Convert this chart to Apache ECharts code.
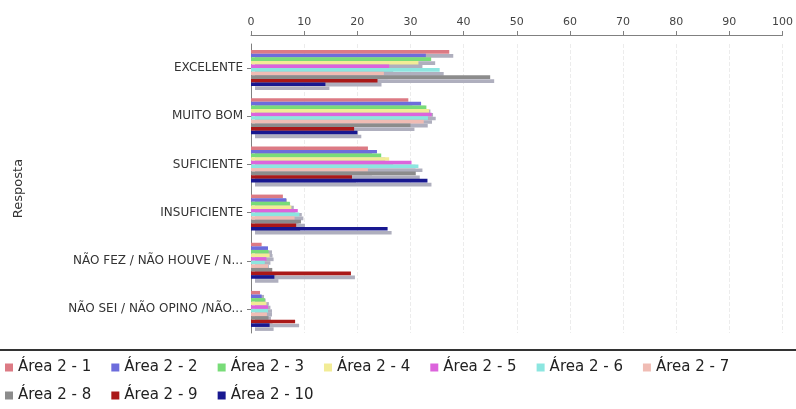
<!DOCTYPE html>
<html>
<head>
<meta charset="utf-8">
<script src="https://cdn.jsdelivr.net/npm/echarts@6/dist/echarts.min.js"></script>
<style>
html,body{margin:0;padding:0;background:#fff;}
#chart{width:796px;height:409px;}
</style>
</head>
<body>
<div id="chart"></div>
<script>
const categories = ['EXCELENTE', 'MUITO BOM', 'SUFICIENTE', 'INSUFICIENTE', 'NÃO FEZ / NÃO HOUVE / N...', 'NÃO SEI / NÃO OPINO /NÃO...'];
const seriesNames = ['Área 2 - 1', 'Área 2 - 2', 'Área 2 - 3', 'Área 2 - 4', 'Área 2 - 5', 'Área 2 - 6', 'Área 2 - 7', 'Área 2 - 8', 'Área 2 - 9', 'Área 2 - 10'];
const area1 = [37.3, 29.6, 22.0, 6.0, 2.0, 1.7];
const area2 = [32.9, 32.0, 23.7, 6.6, 3.2, 2.0];
const area3 = [33.9, 33.0, 24.5, 7.3, 3.3, 2.6];
const area4 = [31.5, 33.5, 26.0, 7.6, 3.5, 2.9];
const area5 = [26.0, 34.0, 30.2, 8.8, 2.9, 3.2];
const area6 = [35.5, 33.3, 31.5, 9.1, 2.6, 3.2];
const area7 = [25.0, 32.5, 22.0, 8.2, 3.2, 3.0];
const area8 = [45.0, 30.0, 31.0, 9.4, 4.0, 3.3];
const area9 = [23.8, 19.4, 19.0, 8.5, 18.8, 8.3];
const area10 = [14.0, 20.0, 33.2, 25.7, 4.4, 3.5];
const seriesValues = [area1, area2, area3, area4, area5, area6, area7, area8, area9, area10];
const colors = ['#dc7a84', '#6c6cdc', '#78dc78', '#f2ec96', '#dc64dc', '#8ce6e0', '#f0bcb4', '#8c8c8c', '#aa1818', '#181890'];

const chart = echarts.init(document.getElementById('chart'), null, {renderer: 'canvas'});
const series = seriesNames.map((name, i) => ({
  name: name,
  type: 'bar',
  data: seriesValues[i],
  barWidth: 3.6,
  barGap: '0%',
  itemStyle: {
    color: colors[i],
    shadowColor: 'rgba(175,175,190,1)',
    shadowOffsetX: 4,
    shadowOffsetY: 4,
    shadowBlur: 0
  }
}));

const legendBase = {
  orient: 'horizontal',
  left: 0,
  padding: 5,
  itemGap: 20,
  itemWidth: 8,
  itemHeight: 8,
  icon: 'rect',
  textStyle: {color: '#222', fontFamily: 'DejaVu Sans', fontSize: 15}
};

chart.setOption({
  animation: false,
  backgroundColor: '#ffffff',
  color: colors,
  grid: {left: 251, right: 8, top: 44, height: 289, containLabel: false},
  xAxis: {
    type: 'value',
    position: 'top',
    offset: 9,
    min: 0,
    max: 100,
    interval: 10,
    axisLine: {show: true, lineStyle: {color: '#808080'}},
    axisTick: {show: true, length: 4, lineStyle: {color: '#808080'}},
    axisLabel: {color: '#444', fontFamily: 'DejaVu Sans', fontSize: 11, margin: 7},
    splitLine: {show: true, lineStyle: {color: '#ececec', type: 'dashed'}}
  },
  yAxis: {
    type: 'category',
    inverse: true,
    data: categories,
    name: 'Resposta',
    nameLocation: 'middle',
    nameGap: 226,
    nameRotate: 90,
    nameTextStyle: {color: '#333', fontFamily: 'DejaVu Sans', fontSize: 13},
    axisLine: {show: true, lineStyle: {color: '#808080'}},
    axisTick: {show: true, alignWithLabel: true, length: 4, lineStyle: {color: '#808080'}},
    axisLabel: {color: '#333', fontFamily: 'DejaVu Sans', fontSize: 12, margin: 8},
    splitLine: {show: false}
  },
  legend: [
    Object.assign({}, legendBase, {data: seriesNames.slice(0, 7), top: 355}),
    Object.assign({}, legendBase, {data: seriesNames.slice(7), top: 383})
  ],
  graphic: [{
    type: 'line',
    shape: {x1: 0, y1: 350, x2: 796, y2: 350},
    style: {stroke: '#333', lineWidth: 2},
    silent: true
  }],
  series: series
});
</script>
</body>
</html>
